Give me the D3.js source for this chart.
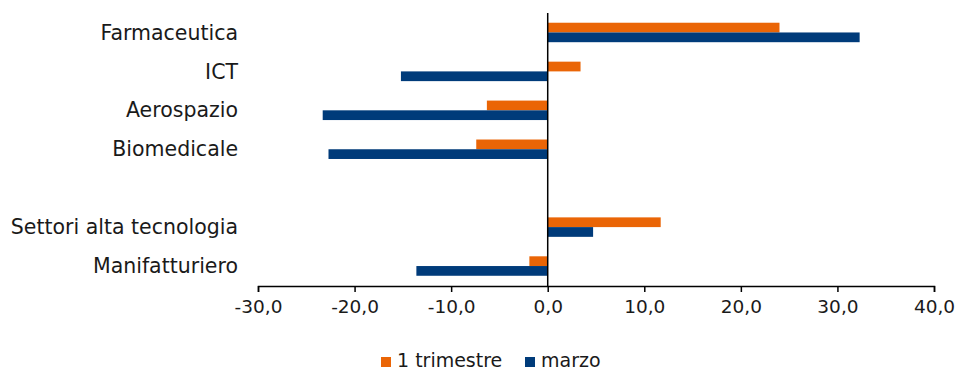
<!DOCTYPE html>
<html><head><meta charset="utf-8">
<script src="https://cdn.jsdelivr.net/npm/d3@7"></script>
<style>
html,body{margin:0;padding:0;background:#fff;}
svg text{font-family:"DejaVu Sans",sans-serif;fill:#1a1a1a;}
</style></head>
<body><svg id="c" width="956" height="371"></svg>
<script>
const categories = ["Farmaceutica","ICT","Aerospazio","Biomedicale"," ","Settori alta tecnologia","Manifatturiero"];
const series = ["1 trimestre","marzo"];
const trimestre = [24.0, 3.4, -6.3, -7.4, null, 11.7, -1.9];
const marzo = [32.3, -15.2, -23.3, -22.7, null, 4.7, -13.6];
const xTicks = [-30,-20,-10,0,10,20,30,40];
const colors = ["#EA6506","#003B7A"];

const svg = d3.select("#c");
const x = d3.scaleLinear().domain([-30,40]).range([258,934]);
const y = d3.scaleBand().domain(categories).range([13,285.5]).padding(0);
const y1 = d3.scaleBand().domain(series).range([y.bandwidth()*0.25, y.bandwidth()*0.75]);
const color = d3.scaleOrdinal().domain(series).range(colors);

const rows = categories.map((c,i)=>({cat:c, vals:[trimestre[i], marzo[i]]}));

const g = svg.append("g");
rows.forEach(r=>{
  r.vals.forEach((v,j)=>{
    if(v==null) return;
    g.append("rect")
      .attr("x", x(Math.min(0,v)))
      .attr("y", y(r.cat)+y1(series[j]))
      .attr("width", Math.abs(x(v)-x(0)))
      .attr("height", y1.bandwidth())
      .attr("fill", color(series[j]));
  });
});

const FS = "18.5px";
// category labels
svg.append("g").selectAll("text").data(categories.filter(c=>c.trim()!==""))
  .join("text")
  .attr("x", 238)
  .attr("y", d=>y(d)+y.bandwidth()/2)
  .attr("dy","0.35em")
  .attr("text-anchor","end")
  .attr("font-size","20.5px")
  .text(d=>d);

// zero line
svg.append("line")
  .attr("x1", x(0)).attr("x2", x(0))
  .attr("y1", 13).attr("y2", 286)
  .attr("stroke","#000").attr("stroke-width",1.5);

// x axis
const axis = d3.axisBottom(x).tickValues(xTicks).tickSize(6).tickSizeOuter(6)
  .tickFormat(d=>d3.format(".1f")(d).replace(".",",").replace("−","-"));
const ax = svg.append("g").attr("transform","translate(0,286)").call(axis);
ax.select(".domain").attr("stroke","#000").attr("stroke-width",1.5);
ax.selectAll(".tick line").attr("stroke","#000").attr("stroke-width",1.5);
ax.selectAll(".tick text").attr("font-size",FS).attr("font-family","'DejaVu Sans', sans-serif")
  .attr("fill","#1a1a1a").attr("y",14);

// legend
const legend = svg.append("g");
const lx = [381, 525];
series.forEach((s,i)=>{
  legend.append("rect").attr("x",lx[i]).attr("y",357).attr("width",10).attr("height",10).attr("fill",colors[i]);
  legend.append("text").attr("x",lx[i]+16).attr("y",367).attr("font-size","19px").text(s);
});
</script></body></html>
